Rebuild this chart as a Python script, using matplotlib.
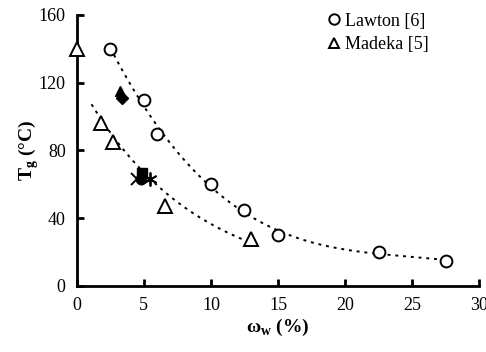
import numpy as np
import matplotlib
matplotlib.use('agg')
import matplotlib.pyplot as plt

# Lawton [6]
lawton_w = [2.5, 5.0, 6.0, 10.0, 12.5, 15.0, 22.5, 27.5]
lawton_tg = [140, 110, 90, 60, 45, 30, 20, 15]

# Madeka [5]
madeka_w = [0.0, 1.8, 2.7, 6.6, 13.0]
madeka_tg = [140, 96, 85, 47, 28]

# other filled / cross symbols
extra = [
    ('^', 3.2, 115),
    ('D', 3.4, 111),
    ('s', 4.85, 67),
    ('o', 4.8, 63),
    ('x', 4.5, 63),
    ('*', 5.45, 63),
]

plt.rcParams['font.family'] = ['Liberation Serif', 'DejaVu Serif']
plt.rcParams['mathtext.fontset'] = 'custom'
plt.rcParams['mathtext.rm'] = 'Liberation Serif'
plt.rcParams['mathtext.bf'] = 'Liberation Serif:bold'

fig = plt.figure(figsize=(4.86, 3.52), dpi=100)
ax = fig.add_axes([0.158, 0.1875, 0.828, 0.770])

# trend lines fitted to the data
up = np.polyfit(lawton_w, lawton_tg, 3)
xu = np.linspace(2.5, 27.5, 200)
ax.plot(xu, np.polyval(up, xu), color='black', ls=(0, (1.5, 2.5)), lw=1.4)

# exponential trend for Madeka
b, a = np.polyfit(madeka_w, np.log(madeka_tg), 1)
xl = np.linspace(1.1, 13.0, 200)
ax.plot(xl, np.exp(a + b * xl), color='black', ls=(0, (1.5, 2.5)), lw=1.4)

ax.plot(lawton_w, lawton_tg, 'o', ms=8.5, mfc='white', mec='black', mew=1.4,
        label='Lawton [6]', clip_on=False, zorder=3)
ax.plot(madeka_w, madeka_tg, '^', ms=9.5, mfc='white', mec='black', mew=1.4,
        label='Madeka [5]', clip_on=False, zorder=3)

for m, x, y in extra:
    if m == 'x':
        ax.plot(x, y, 'x', ms=9, color='black', mew=1.4, zorder=4)
    elif m == '*':
        ax.plot(x, y, marker=(6, 2, 0), ms=10, color='black', mew=1.3, ls='', zorder=4)
    else:
        ax.plot(x, y, m, ms=7.5 if m != 'D' else 6.5, color='black', zorder=4)

ax.set_xlim(0, 30)
ax.set_ylim(0, 160)
ax.set_xticks([0, 5, 10, 15, 20, 25, 30])
ax.set_yticks([0, 40, 80, 120, 160])
ax.spines['top'].set_visible(False)
ax.spines['right'].set_visible(False)
ax.spines['left'].set_linewidth(2)
ax.spines['bottom'].set_linewidth(2)
ax.tick_params(direction='in', length=5, width=2, labelsize=13, pad=8)

ax.set_xlabel('ω$_\\mathbf{w}$ (%)', fontsize=14, fontweight='bold', labelpad=2)
ax.set_ylabel('T$_\\mathbf{g}$ (°C)', fontsize=14, fontweight='bold', labelpad=-2)

leg = ax.legend(loc='upper left', bbox_to_anchor=(0.60, 1.035), frameon=False, fontsize=13,
                handletextpad=0.1, handlelength=1.0, labelspacing=0.35, borderaxespad=0)
for h in leg.legend_handles:
    h.set_markersize(7.5)

fig.savefig('out.png', dpi=100, facecolor='white')
